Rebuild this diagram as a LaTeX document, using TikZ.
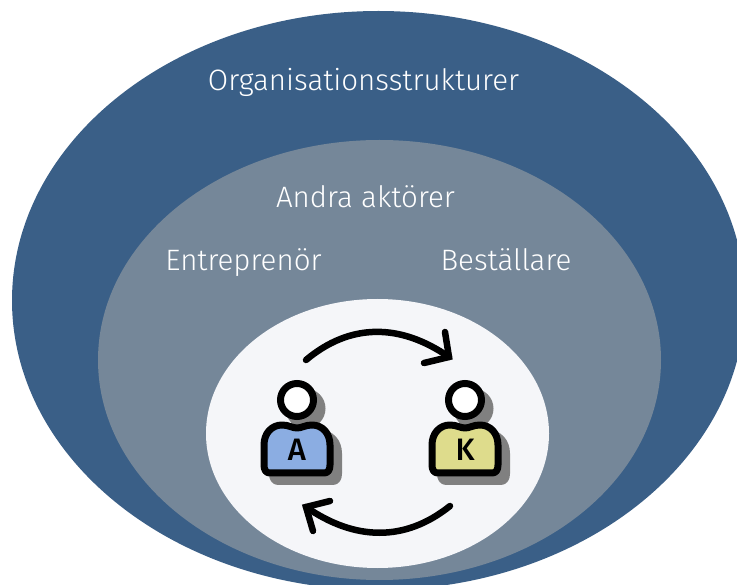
\documentclass[tikz,border=0pt]{standalone}
\usepackage{fontspec}
\setmainfont{Fira Sans Light}
\newfontfamily\letterfont{Fira Sans Medium}
\definecolor{outerblue}{HTML}{3A5F87}
\definecolor{midgray}{HTML}{758799}
\definecolor{innerw}{HTML}{F5F6F9}
\definecolor{shadowgray}{HTML}{808080}
\definecolor{pblue}{HTML}{8BADE2}
\definecolor{pyellow}{HTML}{DEDC8C}
\tikzset{
  lbl/.style={text=white,font=\fontsize{29.5}{32}\selectfont,inner sep=0pt,anchor=base},
  loopline/.style={line width=6.5pt,line cap=round,line join=miter,draw=black},
  personline/.style={line width=7pt,draw=black}
}
\newcommand{\bodypath}{(-33,65) -- (-33,45) .. controls (-33,33) and (-25,25) .. (-15,25)
      .. controls (-8,25) and (-5,28) .. (0,28) .. controls (5,28) and (8,25) .. (15,25)
      .. controls (25,25) and (33,33) .. (33,45) -- (33,65) .. controls (33,70) and (31,73) .. (27,73)
      -- (-27,73) .. controls (-31,73) and (-33,70) .. (-33,65) -- cycle}
\newcommand{\personfig}[4]{% x, y (head centre), colour, letter
  \begin{scope}[shift={(#1,#2)}]
    \begin{scope}[shift={(8.5,8.5)}]
      \fill[shadowgray] (0,0) circle (20);
      \fill[shadowgray,draw=shadowgray,line width=7pt,line join=round] \bodypath;
    \end{scope}
    \draw[personline,fill=white] (0,0) circle (16.5);
    \draw[personline,fill=#3,line join=round] \bodypath;
    \node[inner sep=0pt,font=\fontsize{31}{31}\letterfont] at (0,49.5) {#4};
  \end{scope}}
\begin{document}
\begin{tikzpicture}[x=1pt,y=-1pt]
\useasboundingbox (0,0) rectangle (737,585);
\clip (0,0) rectangle (737,585);
\fill[outerblue] (378.5,300.5) ellipse [x radius=366.5, y radius=289.5];
\fill[midgray] (379.5,360) ellipse [x radius=281.5, y radius=220];
\fill[innerw] (377.5,433.5) ellipse [x radius=171.5, y radius=134.5];
\node[lbl] (org) at (363.5,91) {Organisationsstrukturer};
\node[lbl] (andra) at (365.5,208) {Andra aktörer};
\node[lbl] (ent) at (243.5,271) {Entreprenör};
\node[lbl] (bes) at (506,271) {Beställare};
\personfig{297}{400}{pblue}{A}
\personfig{465}{400}{pyellow}{K}
\coordinate (a1s) at (306,360);
\coordinate (a1t) at (449,357);
\coordinate (a2s) at (450,506);
\coordinate (a2t) at (306,507);
\draw[loopline] (a1s) .. controls (350,323) and (400,323) .. (a1t);
\draw[loopline] (445,332) -- (a1t) -- (424,363);
\draw[loopline] (a2s) .. controls (405,542) and (355,541) .. (a2t);
\draw[loopline] (330,501) -- (a2t) -- (313,531);
\end{tikzpicture}
\end{document}
